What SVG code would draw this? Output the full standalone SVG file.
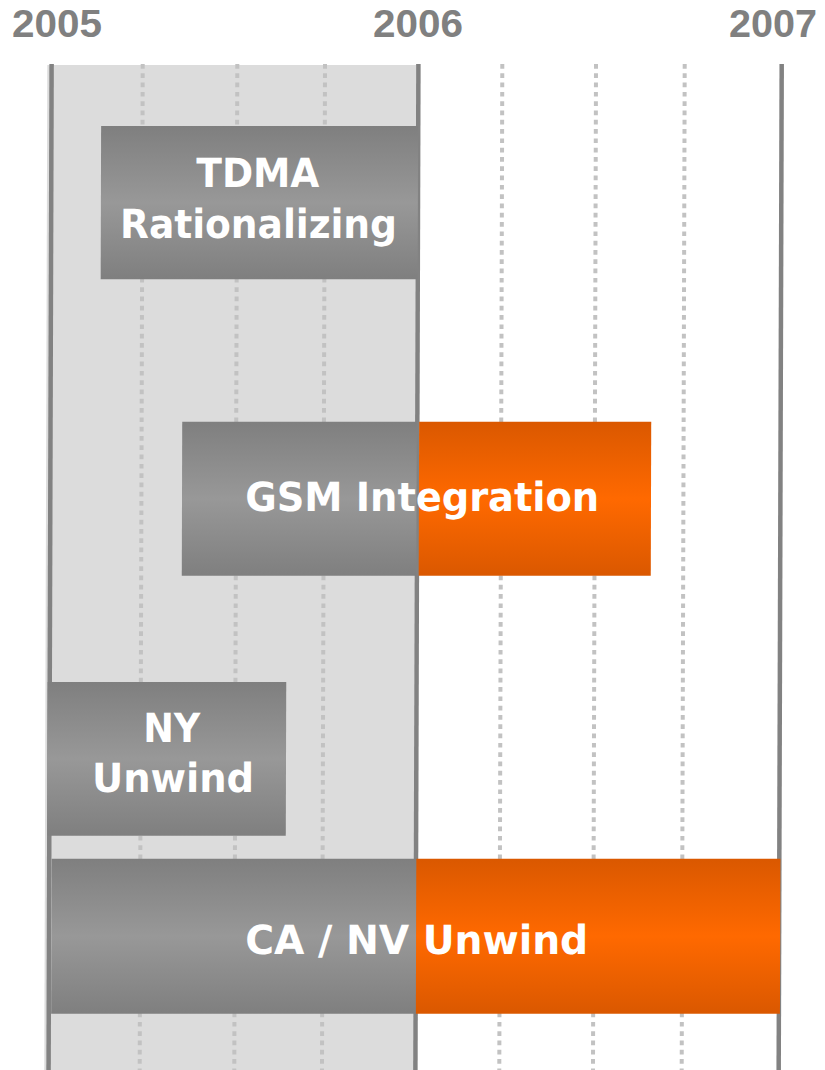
<svg xmlns="http://www.w3.org/2000/svg" width="825" height="1070" viewBox="0 0 825 1070">
  <defs>
    <linearGradient id="barGray" x1="0" y1="0" x2="0" y2="1">
      <stop offset="0" stop-color="#7f7f7f"/>
      <stop offset="0.5" stop-color="#989898"/>
      <stop offset="1" stop-color="#7f7f7f"/>
    </linearGradient>
    <linearGradient id="barOrange" x1="0" y1="0" x2="0" y2="1">
      <stop offset="0" stop-color="#da5800"/>
      <stop offset="0.5" stop-color="#ff6900"/>
      <stop offset="1" stop-color="#da5800"/>
    </linearGradient>
    <style>
      .year { font-family: "Liberation Sans", Arial, sans-serif; font-weight: bold; font-size: 38px; fill: #808080; }
      .label { font-family: "DejaVu Sans", "Liberation Sans", sans-serif; font-weight: bold; font-size: 40px; fill: #ffffff; text-anchor: middle; }
      .major { stroke: #828282; stroke-width: 4.5; fill: none; }
      .minor { stroke: #c2c2c2; stroke-width: 4; stroke-dasharray: 4.7 4.6; fill: none; }
      .gray { fill: url(#barGray); }
      .orange { fill: url(#barOrange); }
    </style>
  </defs>

  <!-- year headings -->
  <g id="years">
    <text class="year" x="12" y="37.3" textLength="90" lengthAdjust="spacingAndGlyphs">2005</text>
    <text class="year" x="373" y="37.3" textLength="90" lengthAdjust="spacingAndGlyphs">2006</text>
    <text class="year" x="729" y="37.3" textLength="88" lengthAdjust="spacingAndGlyphs">2007</text>
  </g>

  <!-- chart body, with a very slight lean to the left going down -->
  <g id="chart" transform="matrix(1 0 -0.003 1 0.195 0)">
    <!-- shaded 2005 band -->
    <rect id="band-2005" x="47.3" y="65" width="369" height="1005" fill="#dcdcdc"/>

    <!-- grid -->
    <g id="grid">
      <line class="minor" x1="142.7" y1="64" x2="142.7" y2="1070"/>
      <line class="minor" x1="237.3" y1="64" x2="237.3" y2="1070"/>
      <line class="minor" x1="325" y1="64" x2="325" y2="1070"/>
      <line class="minor" x1="502.3" y1="64" x2="502.3" y2="1070"/>
      <line class="minor" x1="596" y1="64" x2="596" y2="1070"/>
      <line class="minor" x1="684.7" y1="64" x2="684.7" y2="1070"/>
      <line class="major" x1="51.6" y1="64" x2="51.6" y2="1070"/>
      <line class="major" x1="418.4" y1="64" x2="418.4" y2="1070"/>
      <line class="major" x1="781.7" y1="64" x2="781.7" y2="1070"/>
    </g>

    <g id="tdma-rationalizing">
      <rect class="gray" x="101.3" y="126" width="317" height="153.3"/>
      <text class="label" x="258.2" y="186.7" textLength="123" lengthAdjust="spacingAndGlyphs">TDMA</text>
      <text class="label" x="259" y="238.3" textLength="277" lengthAdjust="spacingAndGlyphs">Rationalizing</text>
    </g>

    <g id="gsm-integration">
      <rect class="gray" x="183.3" y="421.7" width="234.5" height="154"/>
      <rect class="orange" x="420.2" y="421.7" width="232.1" height="154"/>
      <text class="label" x="423.5" y="510.7" textLength="354" lengthAdjust="spacingAndGlyphs">GSM Integration</text>
    </g>

    <g id="ny-unwind">
      <rect class="gray" x="49.5" y="682" width="238.6" height="153.7"/>
      <text class="label" x="173.7" y="741.7" textLength="57" lengthAdjust="spacingAndGlyphs">NY</text>
      <text class="label" x="175.2" y="791.7" textLength="162" lengthAdjust="spacingAndGlyphs">Unwind</text>
    </g>

    <g id="ca-nv-unwind">
      <rect class="gray" x="54" y="858.7" width="364.7" height="155"/>
      <rect class="orange" x="418.7" y="858.7" width="364.1" height="155"/>
      <text class="label" x="419.3" y="954.3" textLength="343" lengthAdjust="spacingAndGlyphs">CA / NV Unwind</text>
    </g>
  </g>
</svg>
